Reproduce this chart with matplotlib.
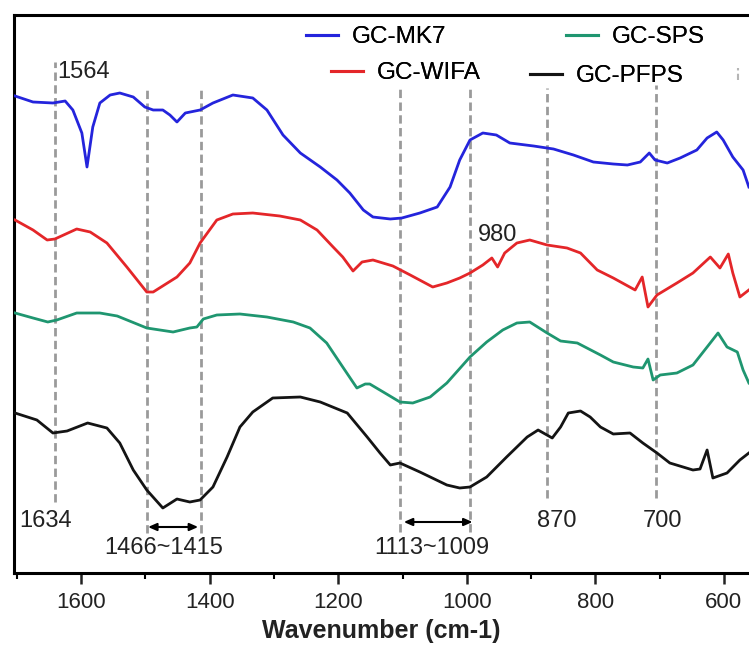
import matplotlib
matplotlib.use("Agg")
import matplotlib.pyplot as plt
from matplotlib.lines import Line2D

plt.rcParams['font.family'] = ['Liberation Sans', 'DejaVu Sans']

# spectra (wavenumber cm-1, transmittance a.u., curves offset)
wn_mk7 = [1703, 1675, 1644, 1625, 1613, 1599, 1591, 1582, 1571, 1555, 1540, 1519, 1501, 1488,
          1473, 1462, 1451, 1438, 1415, 1395, 1364, 1333, 1311, 1286, 1259, 1228, 1202, 1182,
          1161, 1146, 1119, 1101, 1073, 1046, 1026, 1011, 995, 975, 954, 933, 896, 865, 834,
          803, 772, 750, 730, 716, 707, 688, 668, 642, 626, 611, 601, 586, 570, 561]
t_mk7 = [95.4, 94.2, 94.0, 94.4, 92.6, 88.0, 81.2, 89.2, 94.0, 95.6, 96.0, 95.2, 93.2, 92.6,
         92.6, 91.6, 90.2, 92.0, 92.6, 94.0, 95.6, 95.0, 92.6, 87.6, 84.0, 81.2, 78.6, 76.0,
         72.6, 71.2, 70.8, 71.0, 72.0, 73.2, 77.2, 82.6, 86.6, 88.0, 87.6, 86.0, 85.4, 84.8, 83.6,
         82.2, 81.8, 81.6, 82.2, 84.0, 82.6, 82.0, 83.0, 84.6, 87.0, 88.2, 86.6, 83.2, 80.6, 77.2]

wn_wifa = [1703, 1675, 1653, 1641, 1607, 1586, 1560, 1529, 1498, 1488, 1451, 1431, 1415, 1389,
           1364, 1333, 1291, 1259, 1233, 1208, 1193, 1177, 1163, 1146, 1115, 1088, 1053, 1031,
           1011, 995, 975, 961, 952, 941, 922, 902, 875, 844, 823, 797, 772, 738, 727, 718, 704,
           673, 648, 621, 606, 593, 586, 575, 561]
t_wifa = [70.6, 68.6, 66.6, 66.8, 68.8, 68.2, 66.0, 61.2, 56.2, 56.2, 59.2, 62.0, 66.0, 70.6,
          71.8, 72.0, 71.4, 70.6, 68.6, 65.2, 63.2, 60.4, 62.2, 62.6, 61.4, 59.6, 57.2, 58.0,
          59.0, 60.0, 61.6, 63.0, 61.2, 64.0, 66.0, 66.6, 65.6, 65.0, 64.0, 60.6, 59.0, 56.6, 59.2, 53.2, 55.6,
          58.0, 60.0, 63.2, 61.0, 63.8, 60.0, 55.2, 56.6]

wn_sps = [1703, 1675, 1652, 1638, 1607, 1571, 1544, 1498, 1457, 1431, 1420, 1410, 1389, 1353,
          1311, 1270, 1244, 1218, 1193, 1171, 1158, 1151, 1130, 1104, 1084, 1057, 1031, 995, 969,
          944, 922, 902, 875, 854, 828, 792, 772, 741, 726, 718, 710, 699, 673, 648, 626, 609,
          595, 579, 570, 561]
t_sps = [52.0, 51.0, 50.2, 50.6, 52.0, 52.0, 51.4, 49.0, 48.2, 49.0, 49.2, 50.8, 51.6, 51.8,
         51.2, 50.2, 49.0, 46.0, 41.2, 37.0, 37.8, 37.8, 36.2, 34.2, 34.0, 35.2, 38.0, 43.2, 46.2,
         48.6, 50.0, 50.2, 48.0, 46.4, 46.0, 43.6, 42.2, 41.2, 41.0, 42.8, 38.6, 39.6, 40.0, 41.6, 45.2, 48.0,
         45.2, 44.2, 40.6, 38.0]

wn_pfps = [1703, 1669, 1644, 1622, 1590, 1560, 1540, 1519, 1498, 1473, 1451, 1431, 1415, 1395,
           1373, 1353, 1333, 1302, 1259, 1228, 1186, 1155, 1135, 1119, 1104, 1073, 1031, 1011, 995,
           969, 938, 906, 889, 867, 854, 842, 823, 808, 792, 772, 746, 726, 704, 684, 648, 637,
           626, 617, 595, 575, 561]
t_pfps = [32.0, 30.6, 28.0, 28.4, 30.0, 29.0, 26.0, 20.6, 16.6, 13.0, 14.8, 14.2, 14.6, 17.2,
          23.2, 29.2, 32.2, 35.0, 35.2, 34.2, 32.0, 27.2, 24.0, 21.6, 22.0, 20.2, 17.6, 17.0, 17.2,
          19.2, 23.2, 27.2, 28.6, 27.0, 29.2, 32.0, 32.4, 31.2, 29.2, 27.8, 28.0, 26.0, 24.0, 22.0, 20.6, 20.8,
          24.6, 19.0, 20.0, 22.6, 24.0]

series = [("GC-MK7", wn_mk7, t_mk7, "#2424dc"),
          ("GC-WIFA", wn_wifa, t_wifa, "#e42629"),
          ("GC-SPS", wn_sps, t_sps, "#1f9670"),
          ("GC-PFPS", wn_pfps, t_pfps, "#141414")]

# marked bands (dashed guides)
band_wn = [1641, 1498, 1414, 1104, 995, 875, 705]
band_lo = [14.2, 8.0, 8.0, 8.2, 8.2, 15.0, 15.0]
band_hi = [102.2, 97.0, 97.0, 97.0, 97.0, 97.0, 97.6]

fig = plt.figure(figsize=(7.49, 6.46), dpi=100)
ax = fig.add_axes([14 / 749, 73 / 646, 735 / 749, 558 / 646])

for x, lo, hi in zip(band_wn, band_lo, band_hi):
    ax.plot([x, x], [lo, hi], color="#9a9a9a", lw=2, linestyle=(0, (3, 1.6)), zorder=1)
ax.plot([578, 578], [98.6, 101], color="#b5b5b5", lw=1.5, linestyle=(0, (3, 1.6)), zorder=1)

lines = {}
for name, x, y, c in series:
    ln, = ax.plot(x, y, color=c, lw=2.0, zorder=3)
    lines[name] = ln

ax.set_xlim(1704.6, 560.8)
ax.set_ylim(0, 111.6)
ax.set_xticks([1600, 1400, 1200, 1000, 800, 600])
ax.set_xticks([1700, 1500, 1300, 1100, 900, 700], minor=True)
ax.set_yticks([])
ax.tick_params(axis="x", which="major", length=8, width=1.8, labelsize=16, pad=6, colors="#222222")
ax.tick_params(axis="x", which="minor", length=4, width=1.5)
for sp in ["top", "left", "bottom"]:
    ax.spines[sp].set_linewidth(2.2)
ax.spines["right"].set_visible(False)
ax.set_xlabel("Wavenumber (cm-1)", fontsize=18, fontweight="bold", labelpad=4, color="#222222")

# legend: staggered entries
leg_pos = {"GC-MK7": (306, 37), "GC-SPS": (566, 37), "GC-WIFA": (331, 73), "GC-PFPS": (530, 76)}
for name, (px, py) in leg_pos.items():
    lg = fig.legend(handles=[Line2D([], [], color=lines[name].get_color(), lw=2.2)],
                    labels=[name], loc="center left",
                    bbox_to_anchor=(px / 749, 1 - py / 646), frameon=False,
                    fontsize=17.5, handlelength=1.3, handletextpad=0.6,
                    borderpad=0, borderaxespad=0)
    fig.add_artist(lg)

# band labels
kw = dict(fontsize=17, color="#222222")
ax.text(1638, 100.2, "1564", ha="left", va="center", **kw)
ax.text(1697, 10.4, "1634", ha="left", va="center", **kw)
ax.text(1471, 5.0, "1466~1415", ha="center", va="center", **kw)
ax.text(1054, 5.0, "1113~1009", ha="center", va="center", **kw)
ax.text(860, 10.4, "870", ha="center", va="center", **kw)
ax.text(696, 10.4, "700", ha="center", va="center", **kw)
ax.text(983, 67.6, "980", ha="left", va="center", **kw)

arw = dict(arrowstyle="<|-|>,head_length=0.5,head_width=0.22", color="black", lw=1.5,
           shrinkA=0, shrinkB=0)
ax.annotate("", xy=(1418, 9.2), xytext=(1496, 9.2), arrowprops=arw)
ax.annotate("", xy=(991, 10.2), xytext=(1098, 10.2), arrowprops=arw)

fig.savefig("out.png", dpi=100)
